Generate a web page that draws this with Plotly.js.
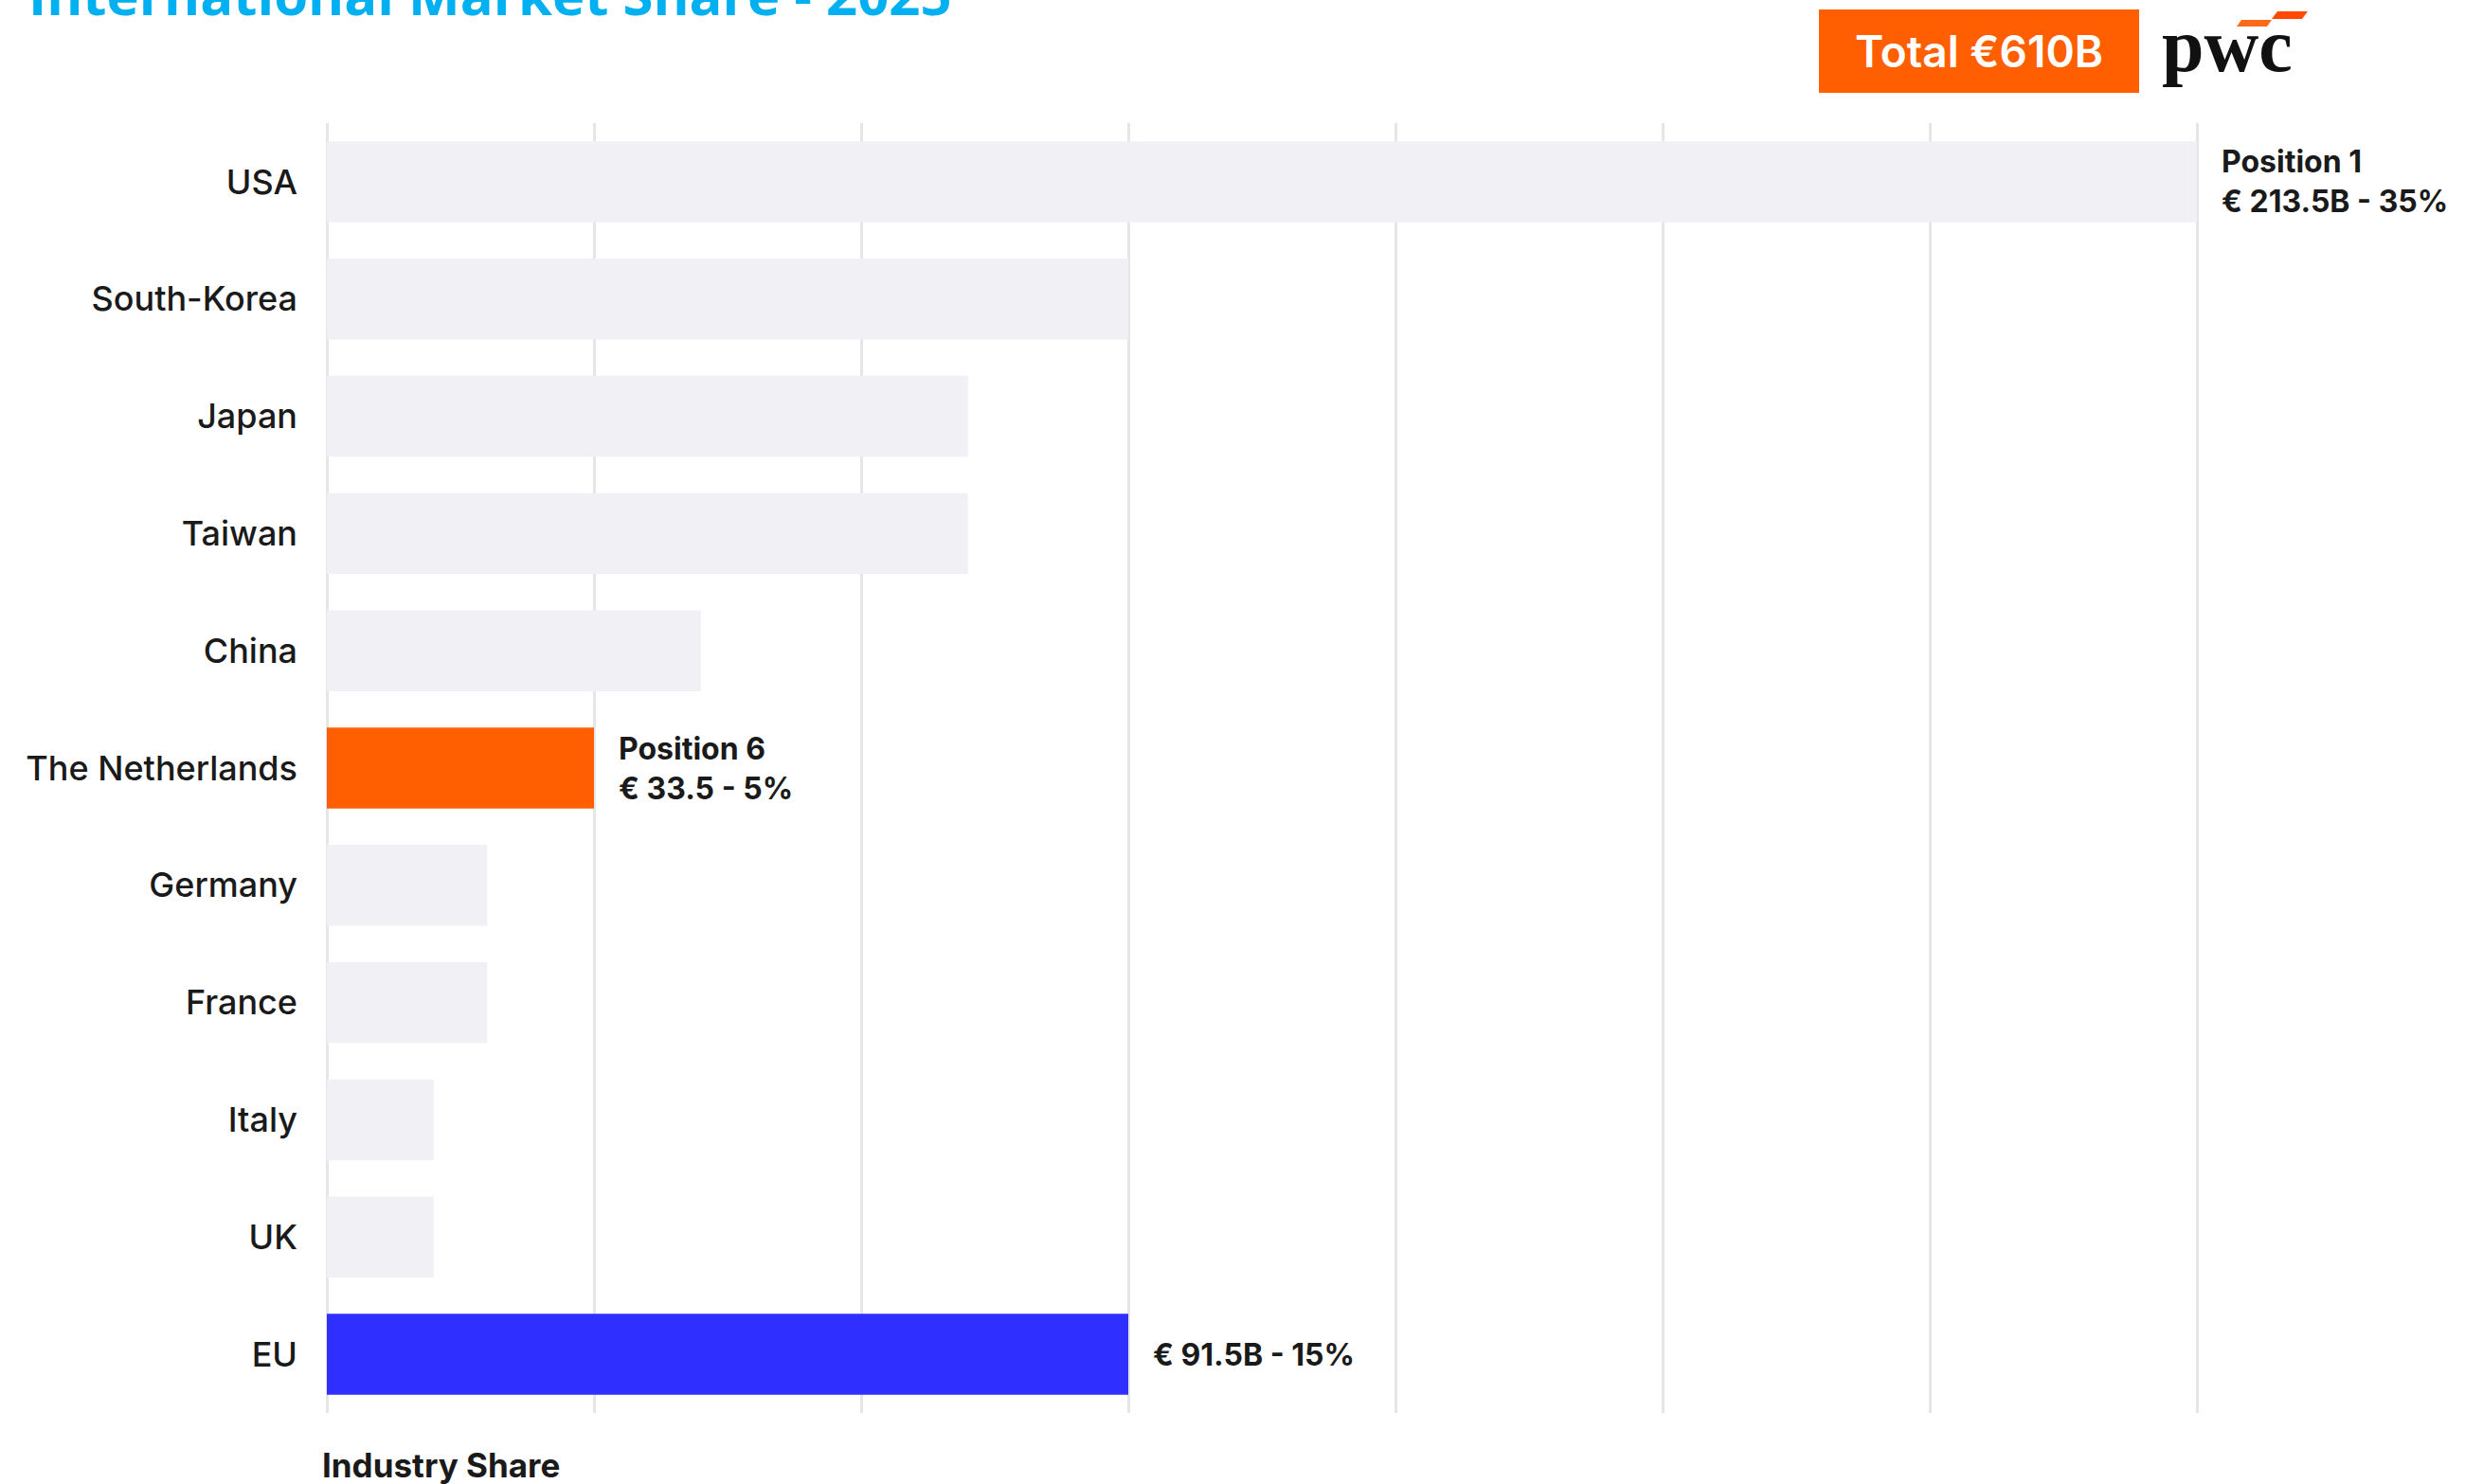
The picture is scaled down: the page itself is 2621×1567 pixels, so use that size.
<!DOCTYPE html>
<html>
<head>
<meta charset="utf-8">
<script src="https://cdn.plot.ly/plotly-3.0.1.min.js"></script>
<style>html,body{margin:0;padding:0;background:#fff;}#chart{width:2621px;height:1567px;}</style>
</head>
<body>
<div id="chart"></div>
<script>
// ---- data ----
const categories = ['USA','South-Korea','Japan','Taiwan','China','The Netherlands','Germany','France','Italy','UK','EU'];
const shares = [35,15,12,12,7,5,3,3,2,2,15];
const noteCategories = ['USA','The Netherlands','EU'];
const noteTexts = ['Position 1<br>€ 213.5B - 35%','Position 6<br>€ 33.5 - 5%','€ 91.5B - 15%'];
const titleText = 'International Market Share - 2025';
const totalText = 'Total €610B';
const logoText = 'pwc';
const axisNote = 'Industry Share';

// ---- styling ----
const W = 2621, H = 1567, L = 345, R = 20, T = 130, B = 75;
const PW = W - L - R, PH = H - T - B;
const fx = px => (px - L) / PW;
const fy = py => (H - B - py) / PH;
const ORANGE = '#ff5f00', BLUE = '#2f2fff', GREY = '#f0f0f5';
const highlight = {'The Netherlands': ORANGE, 'EU': BLUE};
const barColors = categories.map(c => highlight[c] || GREY);

const trace = {
  type: 'bar', orientation: 'h',
  y: categories, x: shares,
  marker: {color: barColors, line: {width: 0}},
  hoverinfo: 'skip'
};

const notes = noteCategories.map((c, i) => ({
  x: shares[categories.indexOf(c)], y: c, xref: 'x', yref: 'y',
  text: noteTexts[i], showarrow: false, xanchor: 'left', yanchor: 'middle',
  align: 'left', xshift: 24,
  font: {family: 'Inter', size: 32, weight: 700, color: '#1a1a1a'}
}));

const layout = {
  width: W, height: H,
  margin: {l: L, r: R, t: T, b: B, pad: 0},
  paper_bgcolor: '#ffffff', plot_bgcolor: '#ffffff',
  showlegend: false,
  bargap: 0.31,
  title: {
    text: titleText, xref: 'container', yref: 'container',
    x: 30 / W, xanchor: 'left', y: 1 - 16 / H, yanchor: 'bottom',
    pad: {t: 0, b: 0, l: 0, r: 0},
    font: {family: 'Open Sans', size: 58, weight: 700, color: '#00b0f0'}
  },
  xaxis: {
    range: [0, 40], dtick: 5, showticklabels: false, ticks: '',
    showgrid: true, gridcolor: '#e6e6e8', gridwidth: 3,
    zeroline: true, zerolinecolor: '#e6e6e8', zerolinewidth: 3,
    showline: false, fixedrange: true
  },
  yaxis: {
    type: 'category', autorange: 'reversed', showgrid: false, zeroline: false,
    ticks: '', ticklabelstandoff: 30, showline: false,
    tickfont: {family: 'Inter', size: 36, weight: 500, color: '#1a1a1a'}
  },
  shapes: [
    {type: 'rect', xref: 'paper', yref: 'paper', x0: fx(1920), x1: fx(2258), y0: fy(98), y1: fy(10),
     fillcolor: ORANGE, line: {width: 0}, layer: 'above'},
    {type: 'path', xref: 'paper', yref: 'paper',
     path: `M ${fx(2361)},${fy(28)} L ${fx(2393)},${fy(28)} L ${fx(2398)},${fy(21)} L ${fx(2366)},${fy(21)} Z`,
     fillcolor: '#ff6a1a', line: {width: 0}},
    {type: 'path', xref: 'paper', yref: 'paper',
     path: `M ${fx(2398)},${fy(20)} L ${fx(2430)},${fy(20)} L ${fx(2436)},${fy(12)} L ${fx(2404)},${fy(12)} Z`,
     fillcolor: '#ff4a00', line: {width: 0}}
  ],
  annotations: notes.concat([
    {x: fx(2089), y: fy(54), xref: 'paper', yref: 'paper', text: totalText, showarrow: false,
     xanchor: 'center', yanchor: 'middle',
     font: {family: 'Inter', size: 46, weight: 600, color: '#ffffff'}},
    {x: fx(2280), y: fy(48), xref: 'paper', yref: 'paper', text: logoText, showarrow: false,
     xanchor: 'left', yanchor: 'middle',
     font: {family: 'Liberation Serif', size: 80, weight: 700, color: '#111111'}},
    {x: fx(338), y: fy(1547), xref: 'paper', yref: 'paper', text: axisNote, showarrow: false,
     xanchor: 'left', yanchor: 'middle',
     font: {family: 'Inter', size: 35, weight: 700, color: '#1a1a1a'}}
  ])
};

Plotly.newPlot('chart', [trace], layout, {displayModeBar: false, staticPlot: true});
</script>
</body>
</html>
